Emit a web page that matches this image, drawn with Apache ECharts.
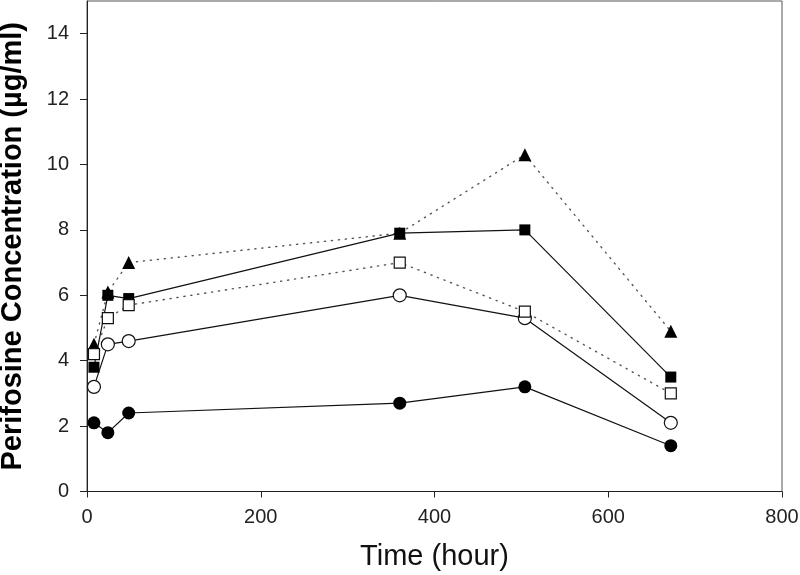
<!DOCTYPE html>
<html>
<head>
<meta charset="utf-8">
<script src="https://cdn.jsdelivr.net/npm/echarts@6/dist/echarts.min.js"></script>
<style>html,body{margin:0;padding:0;background:#fff}#c{width:800px;height:575px}</style>
</head>
<body>
<div id="c"></div>
<script>
const times = [8, 24, 48, 360, 504, 672];
const filledCircle = [2.1, 1.8, 2.4, 2.7, 3.2, 1.4];
const openCircle = [3.2, 4.5, 4.6, 6.0, 5.3, 2.1];
const filledTriangle = [4.5, 6.1, 7.0, 7.9, 10.3, 4.9];
const filledSquare = [3.8, 6.0, 5.9, 7.9, 8.0, 3.5];
const openSquare = [4.2, 5.3, 5.7, 7.0, 5.5, 3.0];
const xTitle = 'Time (hour)';
const yTitle = 'Perifosine Concentration (\u00b5g/ml)';

const pairs = arr => times.map((t, i) => [t, arr[i]]);
const solid = {color: '#111', width: 1.2, type: 'solid'};
const dotted = {color: '#555', width: 1.4, type: [1.2, 5.8], cap: 'round'};

function mk(name, data, symbol, size, line, fillWhite) {
  return {
    name, type: 'line', data: pairs(data), symbol, symbolSize: size,
    lineStyle: line, animation: false,
    itemStyle: fillWhite ? {color: '#fff', borderColor: '#111', borderWidth: 1.2}
                         : {color: '#000', borderColor: '#000', borderWidth: 0},
    emphasis: {disabled: true}
  };
}

const chart = echarts.init(document.getElementById('c'), null, {renderer: 'canvas'});
chart.setOption({
  animation: false,
  backgroundColor: '#fff',
  grid: {left: 87, right: 18, top: 1, bottom: 83.5, containLabel: false, outerBoundsMode: 'none',
         show: true, borderColor: '#555', borderWidth: 1, backgroundColor: 'transparent'},
  xAxis: {
    type: 'value', min: 0, max: 800, interval: 200,
    name: xTitle, nameLocation: 'middle', nameGap: 51,
    nameTextStyle: {fontFamily: 'Liberation Sans', fontSize: 29, color: '#111'},
    axisLine: {lineStyle: {color: '#222', width: 1}},
    axisTick: {inside: false, length: 6, lineStyle: {color: '#222'}},
    axisLabel: {fontFamily: 'Liberation Sans', fontSize: 20, color: '#222', margin: 16},
    splitLine: {show: false}
  },
  yAxis: {
    type: 'value', min: 0, max: 15, interval: 2,
    name: yTitle, nameLocation: 'middle', nameGap: 60,
    nameTextStyle: {fontFamily: 'Liberation Sans', fontSize: 29, fontWeight: 'bold', color: '#000'},
    axisLine: {lineStyle: {color: '#222', width: 1}},
    axisTick: {inside: false, length: 7, lineStyle: {color: '#222'}},
    axisLabel: {fontFamily: 'Liberation Sans', fontSize: 20, color: '#222', margin: 18, showMaxLabel: false},
    splitLine: {show: false}
  },
  series: [
    mk('filledCircle', filledCircle, 'circle', 13, solid, false),
    mk('openCircle', openCircle, 'circle', 13, solid, true),
    mk('filledTriangle', filledTriangle, 'triangle', 13, dotted, false),
    mk('filledSquare', filledSquare, 'rect', 11, solid, false),
    mk('openSquare', openSquare, 'rect', 11, dotted, true)
  ]
});
</script>
</body>
</html>
